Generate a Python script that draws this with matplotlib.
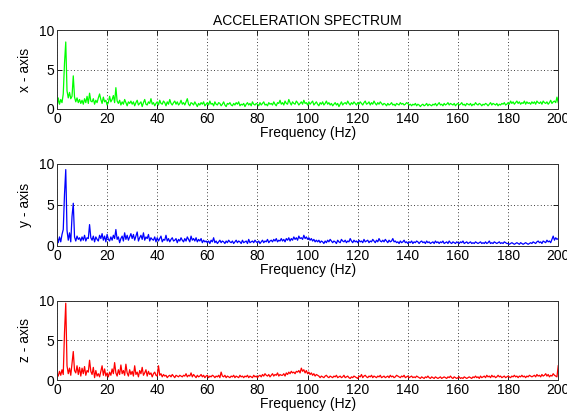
import numpy as np
import matplotlib
matplotlib.use("Agg")
import matplotlib.pyplot as plt

# Frequency axis: 0 .. 200 Hz, 0.5 Hz bins
freq = np.arange(0, 200.5, 0.5)

# Spectrum magnitudes (0.5 Hz bins, rows of 10 Hz)
acc_x = [
    0.2, 1.4, 0.6, 1.2, 0.8, 1.9, 5.8, 8.5, 2.3, 1.4, 2.1, 1.3, 1.6, 4.2, 1.5, 0.9, 1.4, 0.8, 1.2, 0.7,
    1.1, 0.6, 1.3, 0.8, 1.6, 0.7, 2.0, 1.0, 0.9, 1.3, 0.6, 1.1, 0.8, 1.4, 1.9, 1.2, 0.7, 1.5, 0.9, 1.1,
    0.5, 0.8, 1.6, 0.9, 1.2, 1.7, 0.8, 2.7, 1.0, 0.7, 1.1, 0.5, 0.9, 0.6, 1.2, 0.8, 0.4, 0.9, 0.7, 1.0,
    0.6, 0.9, 0.4, 0.8, 1.1, 0.5, 0.7, 0.9, 0.3, 0.8, 1.2, 0.6, 0.5, 0.9, 0.7, 1.3, 0.6, 0.8, 0.4, 0.7,
    0.9, 0.5, 1.1, 0.7, 0.6, 1.0, 0.8, 0.4, 0.9, 0.6, 1.2, 0.7, 0.5, 0.8, 1.0, 0.6, 0.9, 0.5, 0.7, 1.1,
    0.6, 0.8, 0.5, 0.9, 1.3, 0.6, 0.4, 0.8, 0.7, 0.5, 0.9, 0.6, 0.3, 0.7, 0.5, 0.8, 0.6, 0.9, 0.4, 0.6,
    0.8, 0.5, 1.0, 0.6, 0.7, 0.4, 0.9, 0.6, 0.5, 0.8, 0.7, 0.4, 0.6, 0.9, 0.5, 0.3, 0.7, 0.6, 0.8, 0.5,
    0.4, 0.7, 0.5, 0.8, 0.6, 0.9, 0.4, 0.6, 0.5, 0.7, 0.3, 0.6, 0.8, 0.5, 0.7, 0.4, 0.9, 0.6, 0.5, 0.7,
    0.6, 0.4, 0.8, 0.5, 0.7, 0.9, 0.5, 0.6, 0.4, 0.8, 0.6, 0.7, 0.5, 0.9, 0.6, 0.4, 0.8, 0.7, 1.1, 0.6,
    0.8, 0.5, 1.0, 0.7, 0.6, 1.2, 0.8, 0.5, 0.9, 0.7, 0.6, 1.0, 0.8, 0.5, 0.7, 0.9, 0.6, 1.1, 0.7, 0.8,
    0.5, 0.9, 0.6, 0.8, 1.0, 0.5, 0.7, 0.9, 0.6, 0.4, 0.8, 0.6, 0.9, 0.5, 0.7, 1.0, 0.6, 0.8, 0.5, 0.7,
    0.4, 0.6, 0.8, 0.5, 0.7, 0.3, 0.6, 0.9, 0.5, 0.7, 0.8, 0.6, 1.0, 0.7, 0.5, 0.8, 0.6, 0.9, 0.7, 0.5,
    0.8, 0.6, 0.9, 0.7, 0.5, 0.8, 1.0, 0.6, 0.7, 0.9, 0.5, 0.8, 0.6, 1.0, 0.7, 0.5, 0.8, 0.6, 0.9, 0.7,
    0.5, 0.7, 0.6, 0.4, 0.7, 0.5, 0.6, 0.8, 0.5, 0.6, 0.4, 0.7, 0.6, 0.5, 0.8, 0.6, 0.7, 0.5, 0.6, 0.8,
    0.7, 0.5, 0.6, 0.4, 0.6, 0.5, 0.7, 0.4, 0.6, 0.5, 0.3, 0.5, 0.6, 0.4, 0.5, 0.7, 0.4, 0.6, 0.5, 0.4,
    0.6, 0.5, 0.7, 0.4, 0.6, 0.8, 0.5, 0.6, 0.4, 0.7, 0.5, 0.6, 0.8, 0.5, 0.7, 0.6, 0.5, 0.7, 0.4, 0.6,
    0.7, 0.5, 0.6, 0.8, 0.5, 0.6, 0.4, 0.7, 0.6, 0.5, 0.7, 0.4, 0.6, 0.5, 0.8, 0.6, 0.5, 0.7, 0.6, 0.4,
    0.6, 0.5, 0.7, 0.6, 0.4, 0.6, 0.8, 0.5, 0.7, 0.6, 0.5, 0.7, 0.4, 0.6, 0.5, 0.7, 0.6, 0.8, 0.5, 0.6,
    0.8, 0.6, 1.0, 0.7, 0.9, 0.6, 0.8, 1.0, 0.7, 0.9, 0.6, 0.8, 0.7, 1.0, 0.6, 0.9, 0.7, 0.8, 0.6, 0.9,
    0.7, 0.9, 0.6, 1.0, 0.8, 0.7, 0.9, 0.6, 1.0, 0.8, 0.7, 0.9, 0.6, 0.8, 1.1, 0.7, 0.9, 1.0, 0.8, 1.5,
    0.8,
]

acc_y = [
    1.2, 0.4, 1.1, 0.5, 1.4, 2.0, 6.3, 9.3, 1.9, 0.7, 1.6, 0.5, 3.6, 5.2, 1.1, 0.6, 1.2, 0.8, 1.0, 0.6,
    1.1, 0.7, 1.3, 0.6, 1.0, 0.9, 2.6, 1.0, 0.7, 1.2, 0.5, 1.1, 0.8, 0.6, 1.3, 0.9, 1.5, 0.7, 1.2, 0.5,
    1.4, 0.8, 0.6, 1.1, 0.7, 1.3, 0.9, 2.0, 0.8, 1.1, 0.4, 0.9, 1.2, 0.6, 1.6, 0.8, 1.3, 0.7, 1.1, 1.5,
    0.9, 1.4, 0.7, 1.2, 1.7, 0.6, 1.0, 1.3, 0.8, 1.6, 0.7, 1.1, 0.9, 1.4, 0.6, 1.0, 0.8, 0.7, 1.1, 0.5,
    1.0, 0.6, 0.9, 1.2, 0.5, 0.8, 0.7, 1.3, 0.6, 0.9, 0.5, 0.8, 1.0, 0.6, 0.7, 0.9, 0.4, 0.8, 0.6, 1.0,
    0.7, 0.5, 0.9, 0.6, 1.1, 0.8, 0.5, 1.2, 0.7, 0.9, 0.6, 1.0, 0.5, 0.8, 0.6, 0.9, 0.4, 0.7, 0.5, 0.6,
    0.4, 0.6, 0.3, 0.7, 0.5, 1.0, 0.4, 0.6, 0.3, 0.5, 0.7, 0.4, 0.6, 0.5, 0.3, 0.6, 0.4, 0.7, 0.5, 0.4,
    0.6, 0.3, 0.5, 0.7, 0.4, 0.6, 0.5, 0.3, 0.7, 0.4, 0.5, 0.6, 0.3, 0.8, 0.4, 0.5, 0.6, 0.4, 0.7, 0.5,
    0.4, 0.6, 0.3, 0.5, 0.7, 0.4, 0.6, 0.5, 0.8, 0.4, 0.6, 0.7, 0.5, 0.8, 0.6, 0.9, 0.5, 0.7, 0.6, 0.9,
    0.6, 0.8, 0.5, 0.9, 0.7, 1.0, 0.6, 0.9, 0.7, 1.1, 0.8, 1.0, 0.7, 1.2, 0.9, 1.0, 0.8, 1.3, 0.9, 1.1,
    0.8, 1.0, 0.7, 0.9, 0.6, 0.8, 0.5, 0.7, 0.5, 0.7, 0.4, 0.6, 0.5, 0.3, 0.6, 0.4, 0.7, 0.5, 0.8, 0.6,
    0.4, 0.6, 0.5, 0.3, 0.7, 0.5, 0.4, 0.8, 0.6, 0.5, 0.7, 0.4, 0.6, 0.5, 0.9, 0.6, 0.4, 0.7, 0.5, 0.6,
    0.4, 0.7, 0.5, 0.6, 0.4, 0.8, 0.5, 0.6, 0.7, 0.4, 0.6, 0.5, 0.8, 0.6, 0.4, 0.7, 0.5, 0.9, 0.6, 0.5,
    0.7, 0.5, 0.8, 0.6, 0.4, 0.7, 0.5, 0.6, 0.9, 0.5, 0.6, 0.4, 0.5, 0.3, 0.6, 0.4, 0.5, 0.7, 0.4, 0.5,
    0.3, 0.5, 0.4, 0.6, 0.3, 0.5, 0.4, 0.6, 0.5, 0.3, 0.5, 0.6, 0.4, 0.5, 0.3, 0.6, 0.4, 0.5, 0.3, 0.4,
    0.5, 0.3, 0.6, 0.4, 0.5, 0.3, 0.5, 0.4, 0.6, 0.3, 0.4, 0.5, 0.3, 0.6, 0.4, 0.3, 0.5, 0.4, 0.3, 0.5,
    0.4, 0.3, 0.5, 0.4, 0.6, 0.3, 0.4, 0.5, 0.3, 0.4, 0.5, 0.3, 0.4, 0.3, 0.5, 0.4, 0.3, 0.4, 0.5, 0.3,
    0.4, 0.3, 0.5, 0.3, 0.4, 0.6, 0.3, 0.4, 0.3, 0.5, 0.4, 0.3, 0.4, 0.5, 0.3, 0.4, 0.3, 0.5, 0.4, 0.3,
    0.3, 0.2, 0.3, 0.4, 0.3, 0.2, 0.3, 0.4, 0.3, 0.2, 0.4, 0.3, 0.2, 0.3, 0.4, 0.3, 0.2, 0.3, 0.4, 0.3,
    0.5, 0.4, 0.3, 0.5, 0.6, 0.4, 0.5, 0.3, 0.6, 0.5, 0.4, 0.7, 0.5, 0.6, 0.4, 0.8, 1.2, 0.7, 1.0, 0.8,
    0.9,
]

acc_z = [
    0.8, 0.5, 1.1, 0.6, 1.3, 0.7, 6.0, 9.7, 1.8, 0.8, 1.5, 0.6, 2.1, 3.6, 1.2, 0.9, 1.8, 0.7, 1.6, 0.5,
    1.5, 0.8, 1.7, 0.6, 1.2, 1.0, 2.5, 1.1, 0.7, 1.6, 0.3, 1.2, 0.5, 0.8, 0.4, 1.1, 1.8, 0.6, 1.4, 0.5,
    0.9, 0.4, 1.0, 0.6, 1.4, 0.8, 2.2, 0.9, 0.5, 1.3, 0.7, 1.9, 0.8, 1.2, 0.6, 2.0, 0.9, 0.5, 1.3, 0.7,
    1.1, 0.5, 1.8, 0.7, 1.0, 0.4, 1.2, 0.8, 1.6, 0.6, 0.9, 1.3, 0.5, 1.1, 0.7, 0.9, 0.4, 0.8, 1.0, 0.6,
    0.5, 1.8, 0.6, 0.8, 0.4, 0.7, 0.5, 0.6, 0.3, 0.5, 0.6, 0.4, 0.7, 0.5, 0.3, 0.6, 0.5, 0.4, 0.6, 0.5,
    0.4, 0.6, 0.5, 0.8, 0.4, 0.6, 0.5, 0.9, 0.4, 0.7, 0.5, 0.3, 0.6, 0.4, 0.5, 0.7, 0.4, 0.6, 0.3, 0.5,
    0.6, 0.3, 0.5, 0.4, 0.6, 0.5, 0.3, 0.5, 0.4, 0.6, 0.3, 1.0, 0.5, 0.4, 0.6, 0.3, 0.5, 0.4, 0.3, 0.5,
    0.4, 0.6, 0.3, 0.5, 0.4, 0.3, 0.6, 0.4, 0.5, 0.3, 0.5, 0.4, 0.6, 0.3, 0.5, 0.4, 0.3, 0.6, 0.4, 0.5,
    0.3, 0.5, 0.6, 0.4, 0.7, 0.5, 0.8, 0.6, 0.5, 0.7, 0.4, 0.6, 0.8, 0.5, 0.7, 0.6, 0.9, 0.5, 0.7, 0.6,
    0.6, 0.8, 0.5, 0.9, 0.7, 1.0, 0.8, 1.1, 0.9, 1.0, 0.8, 1.1, 1.0, 1.2, 0.9, 1.5, 1.1, 1.3, 0.9, 1.2,
    0.8, 1.0, 0.7, 0.9, 0.6, 0.8, 0.5, 0.7, 0.6, 0.5, 0.3, 0.5, 0.4, 0.3, 0.5, 0.6, 0.4, 0.3, 0.5, 0.4,
    0.3, 0.5, 0.4, 0.6, 0.3, 0.4, 0.5, 0.3, 0.4, 0.6, 0.3, 0.4, 0.5, 0.3, 0.2, 0.4, 0.3, 0.5, 0.4, 0.3,
    0.2, 0.5, 0.4, 0.7, 0.3, 0.5, 0.6, 0.4, 0.3, 0.5, 0.4, 0.6, 0.3, 0.5, 0.4, 0.3, 0.5, 0.4, 0.6, 0.3,
    0.4, 0.5, 0.3, 0.4, 0.5, 0.3, 0.6, 0.4, 0.5, 0.3, 0.4, 0.6, 0.5, 0.4, 0.3, 0.5, 0.4, 0.6, 0.3, 0.4,
    0.5, 0.3, 0.4, 0.5, 0.3, 0.4, 0.3, 0.5, 0.4, 0.3, 0.2, 0.4, 0.3, 0.2, 0.4, 0.3, 0.5, 0.3, 0.2, 0.4,
    0.3, 0.2, 0.4, 0.3, 0.2, 0.3, 0.4, 0.2, 0.3, 0.4, 0.3, 0.2, 0.4, 0.3, 0.5, 0.3, 0.2, 0.4, 0.3, 0.2,
    0.3, 0.4, 0.2, 0.3, 0.2, 0.4, 0.3, 0.2, 0.3, 0.4, 0.3, 0.2, 0.4, 0.3, 0.5, 0.3, 0.4, 0.2, 0.5, 0.3,
    0.4, 0.5, 0.3, 0.6, 0.4, 0.5, 0.3, 0.6, 0.4, 0.5, 0.3, 0.4, 0.6, 0.4, 0.5, 0.3, 0.4, 0.5, 0.3, 0.4,
    0.5, 0.4, 0.3, 0.5, 0.4, 0.6, 0.4, 0.5, 0.3, 0.5, 0.4, 0.6, 0.4, 0.5, 0.3, 0.5, 0.4, 0.6, 0.5, 0.4,
    0.5, 0.6, 0.4, 0.7, 0.5, 0.6, 0.4, 0.7, 0.5, 0.6, 0.8, 0.5, 0.7, 0.4, 0.6, 0.5, 0.8, 0.6, 0.5, 0.4,
    1.8,
]

series = [acc_x, acc_y, acc_z]
ylabels = ["x - axis", "y - axis", "z - axis"]
colors = ["#00ff00", "#0000ff", "#ff0000"]
xticks = [0, 20, 40, 60, 80, 100, 120, 140, 160, 180, 200]
yticks = [0, 5, 10]

plt.rcParams["font.family"] = ["Liberation Sans", "DejaVu Sans"]
plt.rcParams["font.size"] = 10

fig = plt.figure(figsize=(5.67, 4.19), dpi=100)
# axes boxes in figure fractions [left, bottom, width, height]
boxes = [
    [0.1005, 0.740, 0.884, 0.188],
    [0.1005, 0.413, 0.884, 0.196],
    [0.1005, 0.093, 0.884, 0.189],
]

for i, (vals, lab, col) in enumerate(zip(series, ylabels, colors)):
    ax = fig.add_axes(boxes[i])
    ax.plot(freq, vals, color=col, lw=0.9)
    ax.set_xlim(0, 200)
    ax.set_ylim(0, 10)
    ax.set_xticks(xticks)
    ax.set_yticks(yticks)
    ax.grid(True, color="black", ls=(0, (1, 3)), lw=0.6)
    ax.tick_params(direction="in", top=True, right=True, length=3.5,
                   width=0.6, labelsize=10, pad=2)
    for sp in ax.spines.values():
        sp.set_linewidth(0.7)
        sp.set_color("#333333")
    ax.set_xlabel("Frequency (Hz)", fontsize=10, labelpad=0)
    ax.set_ylabel(lab, fontsize=10, labelpad=5)
    if i == 0:
        ax.set_title("ACCELERATION SPECTRUM", fontsize=10, pad=4)

fig.savefig("out.png", dpi=100, facecolor="white")
